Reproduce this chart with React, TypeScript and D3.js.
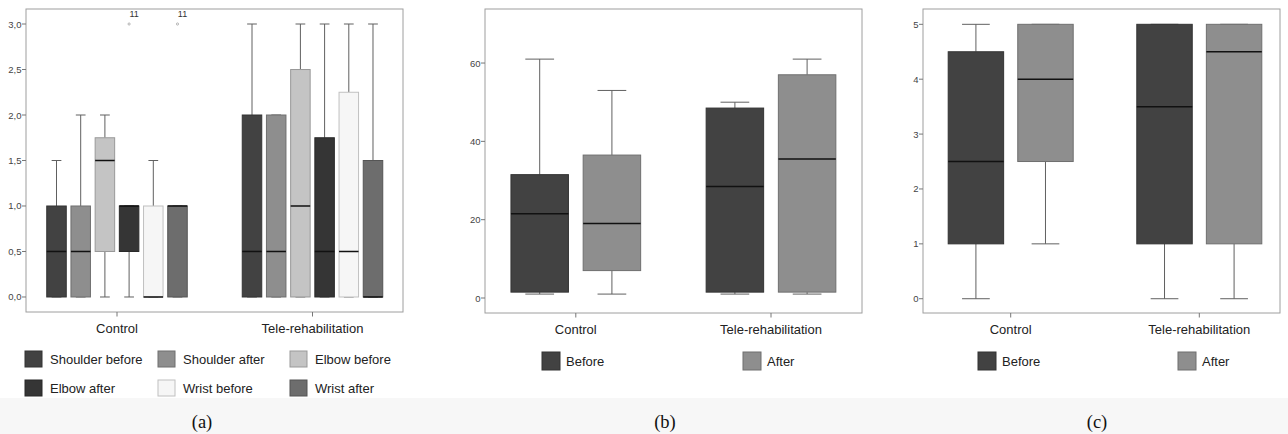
import * as d3 from "d3";

// [min, q1, median, q3, max]
type Stat = number[];

const groups = ["Control", "Tele-rehabilitation"];

const jointSeries = ["Shoulder before", "Shoulder after", "Elbow before", "Elbow after", "Wrist before", "Wrist after"];
const jointColors = ["#424242", "#8e8e8e", "#c4c4c4", "#353535", "#f6f6f6", "#6d6d6d"];
const jointControl: Stat[] = [
  [0, 0, 0.5, 1, 1.5],
  [0, 0, 0.5, 1, 2],
  [0, 0.5, 1.5, 1.75, 2],
  [0, 0.5, 1, 1, 1],
  [0, 0, 0, 1, 1.5],
  [0, 0, 1, 1, 1],
];
const jointTele: Stat[] = [
  [0, 0, 0.5, 2, 3],
  [0, 0, 0.5, 2, 2],
  [0, 0, 1, 2.5, 3],
  [0, 0, 0.5, 1.75, 3],
  [0, 0, 0.5, 2.25, 3],
  [0, 0, 0, 1.5, 3],
];
const jointOutliers = [
  { group: "Control", series: "Elbow after", value: 3, label: "11" },
  { group: "Control", series: "Wrist after", value: 3, label: "11" },
];
const jointTicks = [0, 0.5, 1, 1.5, 2, 2.5, 3];

const phaseSeries = ["Before", "After"];
const phaseColors = ["#424242", "#8e8e8e"];

const scoreControl: Stat[] = [
  [1, 1.5, 21.5, 31.5, 61],
  [1, 7, 19, 36.5, 53],
];
const scoreTele: Stat[] = [
  [1, 1.5, 28.5, 48.5, 50],
  [1, 1.5, 35.5, 57, 61],
];
const scoreTicks = [0, 20, 40, 60];

const levelControl: Stat[] = [
  [0, 1, 2.5, 4.5, 5],
  [1, 2.5, 4, 5, 5],
];
const levelTele: Stat[] = [
  [0, 1, 3.5, 5, 5],
  [0, 1, 4.5, 5, 5],
];
const levelTicks = [0, 1, 2, 3, 4, 5];

const sans = "'Liberation Sans', Arial, sans-serif";
const serif = "'Liberation Serif', 'Times New Roman', serif";

interface PanelProps {
  frame: { x0: number; x1: number; y0: number; y1: number };
  yDomain: [number, number];
  ticks: number[];
  fmt: (v: number) => string;
  groupInset: [number, number];
  innerHalf: number;
  innerPad: number;
  series: string[];
  colors: string[];
  stats: Stat[][];
  outliers?: { group: string; series: string; value: number; label: string }[];
  legend: { cols: number[]; rows: number[]; size: [number, number]; textGap: number };
  caption: { text: string; x: number };
}

function BoxPanel(p: PanelProps) {
  const { frame } = p;
  const y = d3.scaleLinear().domain(p.yDomain).range([frame.y1, frame.y0]);
  const xg = d3
    .scalePoint<string>()
    .domain(groups)
    .range([frame.x0 + p.groupInset[0], frame.x1 - p.groupInset[1]]);
  const xs = d3
    .scaleBand<string>()
    .domain(p.series)
    .range([-p.innerHalf, p.innerHalf])
    .paddingInner(p.innerPad)
    .paddingOuter(0);
  const bw = xs.bandwidth();

  return (
    <g>
      <rect
        x={frame.x0}
        y={frame.y0}
        width={frame.x1 - frame.x0}
        height={frame.y1 - frame.y0}
        fill="#fff"
        stroke="#9e9e9e"
        strokeWidth={1}
      />
      {p.ticks.map((t) => (
        <g key={t}>
          <line x1={frame.x0 - 4} x2={frame.x0} y1={y(t)} y2={y(t)} stroke="#777" />
          <text
            x={frame.x0 - 4.5}
            y={y(t)}
            textAnchor="end"
            dominantBaseline="central"
            fontSize={9.5}
            fill="#444"
            fontFamily={sans}
          >
            {p.fmt(t)}
          </text>
        </g>
      ))}
      {groups.map((g, gi) => {
        const cx = xg(g)!;
        return (
          <g key={g}>
            <line x1={cx} x2={cx} y1={frame.y1} y2={frame.y1 + 4.5} stroke="#777" />
            <text x={cx} y={frame.y1 + 21} textAnchor="middle" fontSize={13} fill="#222" fontFamily={sans}>
              {g}
            </text>
            {p.series.map((s, si) => {
              const [mn, q1, md, q3, mx] = p.stats[gi][si];
              const x0 = cx + xs(s)!;
              const mid = x0 + bw / 2;
              const fill = p.colors[si];
              const stroke = d3.color(fill)!.darker(0.7).formatHex();
              return (
                <g key={s}>
                  <line x1={mid} x2={mid} y1={y(q3)} y2={y(mx)} stroke="#606060" />
                  <line x1={mid} x2={mid} y1={y(q1)} y2={y(mn)} stroke="#606060" />
                  <line x1={mid - bw / 4} x2={mid + bw / 4} y1={y(mx)} y2={y(mx)} stroke="#606060" />
                  <line x1={mid - bw / 4} x2={mid + bw / 4} y1={y(mn)} y2={y(mn)} stroke="#606060" />
                  <rect
                    x={x0}
                    y={y(q3)}
                    width={bw}
                    height={Math.max(0, y(q1) - y(q3))}
                    fill={fill}
                    stroke={stroke}
                    strokeWidth={1}
                  />
                  <line x1={x0} x2={x0 + bw} y1={y(md)} y2={y(md)} stroke="#111" strokeWidth={1.5} />
                </g>
              );
            })}
          </g>
        );
      })}
      {(p.outliers || []).map((o, i) => {
        const mid = xg(o.group)! + xs(o.series)! + bw / 2;
        return (
          <g key={i}>
            <circle cx={mid} cy={y(o.value)} r={1.1} fill="none" stroke="#999" strokeWidth={0.7} />
            <text x={mid + 5} y={y(o.value) - 7} textAnchor="middle" fontSize={9} fill="#333" fontFamily={sans}>
              {o.label}
            </text>
          </g>
        );
      })}
      {p.series.map((s, si) => {
        const nc = p.legend.cols.length;
        const lx = p.legend.cols[si % nc];
        const ly = p.legend.rows[Math.floor(si / nc)];
        const [w, h] = p.legend.size;
        return (
          <g key={s}>
            <rect
              x={lx}
              y={ly}
              width={w}
              height={h}
              fill={p.colors[si]}
              stroke={d3.color(p.colors[si])!.darker(0.7).formatHex()}
            />
            <text
              x={lx + w + p.legend.textGap}
              y={ly + h / 2}
              dominantBaseline="central"
              fontSize={13}
              fill="#222"
              fontFamily={sans}
            >
              {s}
            </text>
          </g>
        );
      })}
      <text x={p.caption.x} y={428} textAnchor="middle" fontSize={18.5} fill="#111" fontFamily={serif}>
        {p.caption.text}
      </text>
    </g>
  );
}

const commaFmt = (v: number) => d3.format(".1f")(v).replace(".", ",");
const intFmt = d3.format("d");

export default function App() {
  return (
    <svg
      width={1288}
      height={434}
      style={{ position: "absolute", left: 0, top: 0, background: "#fff" }}
    >
      <rect x={0} y={398} width={1288} height={36} fill="#f7f7f7" />
      <BoxPanel
        frame={{ x0: 26, x1: 403, y0: 9, y1: 312 }}
        yDomain={[-0.165, 3.165]}
        ticks={jointTicks}
        fmt={commaFmt}
        groupInset={[91, 90.5]}
        innerHalf={70.25}
        innerPad={0.194}
        series={jointSeries}
        colors={jointColors}
        stats={[jointControl, jointTele]}
        outliers={jointOutliers}
        legend={{ cols: [25, 158, 290], rows: [351, 380], size: [17, 16], textGap: 8 }}
        caption={{ text: "(a)", x: 202 }}
      />
      <BoxPanel
        frame={{ x0: 485, x1: 862, y0: 9, y1: 313 }}
        yDomain={[-3.83, 73.8]}
        ticks={scoreTicks}
        fmt={intFmt}
        groupInset={[90.8, 91]}
        innerHalf={64.85}
        innerPad={0.204}
        series={phaseSeries}
        colors={phaseColors}
        stats={[scoreControl, scoreTele]}
        legend={{ cols: [542, 743], rows: [352], size: [18, 18], textGap: 6 }}
        caption={{ text: "(b)", x: 665 }}
      />
      <BoxPanel
        frame={{ x0: 923, x1: 1280, y0: 9, y1: 313 }}
        yDomain={[-0.26, 5.279]}
        ticks={levelTicks}
        fmt={intFmt}
        groupInset={[87.7, 80.7]}
        innerHalf={62.5}
        innerPad={0.203}
        series={phaseSeries}
        colors={phaseColors}
        stats={[levelControl, levelTele]}
        legend={{ cols: [978, 1178], rows: [352], size: [18, 18], textGap: 6 }}
        caption={{ text: "(c)", x: 1097 }}
      />
    </svg>
  );
}
